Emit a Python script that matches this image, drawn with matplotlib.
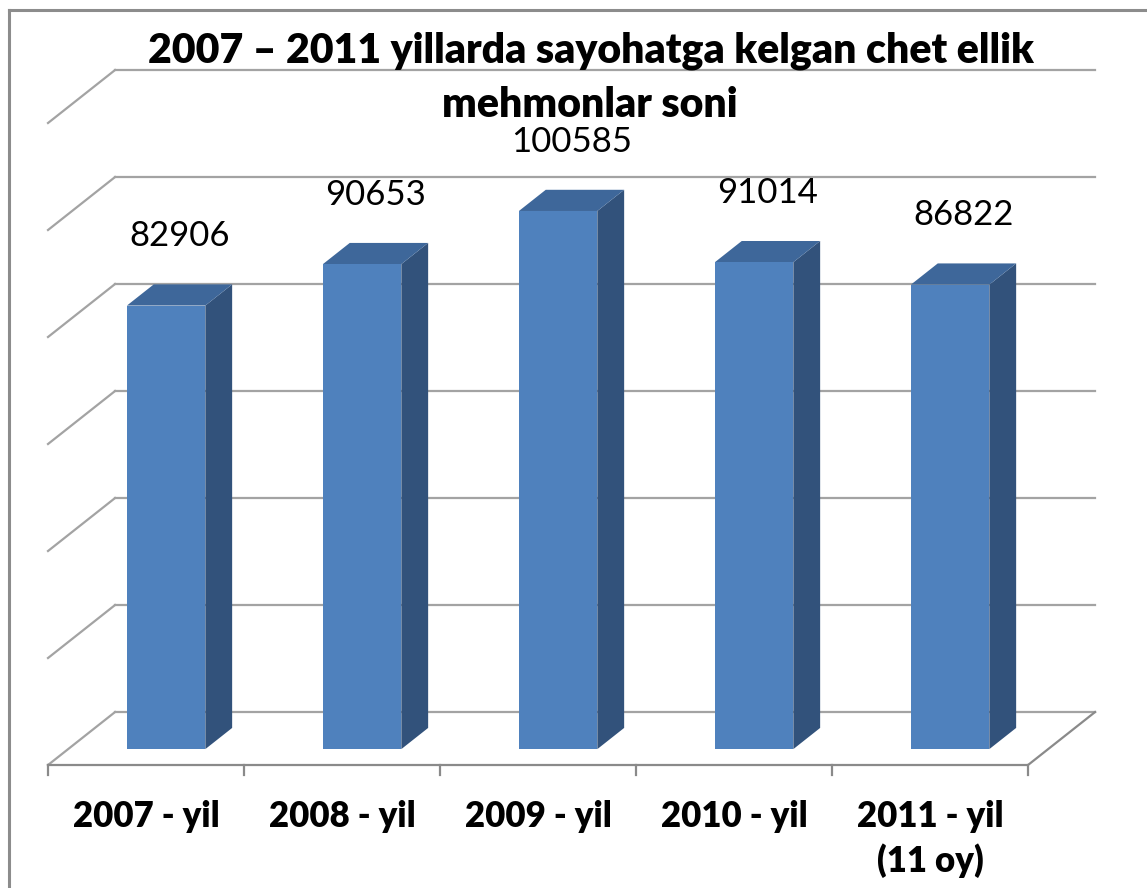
import matplotlib
matplotlib.use('Agg')
import matplotlib.pyplot as plt
from matplotlib.patches import Polygon
from matplotlib.lines import Line2D

plt.rcParams['font.family'] = ['Lato', 'DejaVu Sans']

# ---------------- data ----------------
categories = ['2007 - yil', '2008 - yil', '2009 - yil', '2010 - yil', '2011 - yil\n(11 oy)']
values = [82906, 90653, 100585, 91014, 86822]
grid_values = [0, 20000, 40000, 60000, 80000, 100000, 120000]
title_1 = '2007 – 2011 yillarda sayohatga kelgan chet ellik'
title_2 = 'mehmonlar soni'

# oblique "3D" projection: depth d in [0, 1] shifts right and up
DX = 0.342      # category units
DY = 9900       # value units

def proj(x, y, d):
    return (x + d * DX, y + d * DY)

front_color = '#4F81BD'
top_color = '#3E679A'
side_color = '#32527B'
grid_color = '#A3A3A3'
axis_color = '#8A8A8A'

fig = plt.figure(figsize=(11.47, 8.88), dpi=100)
ax = fig.add_axes([0, 0, 1, 1])
ax.set_xlim(-0.245, 5.607)
ax.set_ylim(-22990, 142990)
ax.axis('off')

n = len(categories)

# back wall and side wall gridlines
for v in grid_values:
    xs, ys = zip(proj(0, v, 1), proj(n, v, 1))
    ax.plot(xs, ys, color=grid_color, lw=1.6, zorder=1)
    xs, ys = zip(proj(0, v, 0), proj(0, v, 1))
    ax.plot(xs, ys, color=grid_color, lw=1.6, zorder=1)

# floor edges
xs, ys = zip(proj(0, 0, 0), proj(n, 0, 0), proj(n, 0, 1))
ax.plot(xs, ys, color=axis_color, lw=1.6, zorder=1)
for i in range(n + 1):
    ax.plot([i, i], [0, -1900], color=axis_color, lw=1.6, zorder=1)

# bars
d0, d1 = 0.3, 0.7
for i, v in enumerate(values):
    x0, x1 = i + 0.3, i + 0.7
    front = [proj(x0, 0, d0), proj(x1, 0, d0), proj(x1, v, d0), proj(x0, v, d0)]
    side = [proj(x1, 0, d0), proj(x1, 0, d1), proj(x1, v, d1), proj(x1, v, d0)]
    top = [proj(x0, v, d0), proj(x1, v, d0), proj(x1, v, d1), proj(x0, v, d1)]
    ax.add_patch(Polygon(side, closed=True, facecolor=side_color, edgecolor='none', zorder=3))
    ax.add_patch(Polygon(top, closed=True, facecolor=top_color, edgecolor='none', zorder=3))
    ax.add_patch(Polygon(front, closed=True, facecolor=front_color, edgecolor='none', zorder=4))
    lx, ly = proj(i + 0.5, v, 0.5)
    ax.text(lx, ly + 11000, f'{v}', ha='center', va='center', fontsize=25, color='black', zorder=5)

# category labels (one text per line, first line on a fixed baseline)
for i, lab in enumerate(categories):
    for k, line in enumerate(lab.split('\n')):
        ax.text(i + 0.5, -11600 - k * 8450, line, ha='center', va='baseline', fontsize=25,
                fontweight='heavy', zorder=5)

# title
fig.text(0.5155, 1 - 63 / 888, title_1, ha='center', va='baseline', fontsize=29.5, fontweight='heavy')
fig.text(0.5145, 1 - 117 / 888, title_2, ha='center', va='baseline', fontsize=29.5, fontweight='heavy')

# chart area border (cropped at right and bottom)
fig.add_artist(Line2D([9 / 1147, 1], [1 - 10 / 888, 1 - 10 / 888], color='#8C8C8C', lw=2.2,
                      transform=fig.transFigure))
fig.add_artist(Line2D([9 / 1147, 9 / 1147], [0, 1 - 10 / 888], color='#8C8C8C', lw=2.2,
                      transform=fig.transFigure))

fig.savefig('out.png', dpi=100)
